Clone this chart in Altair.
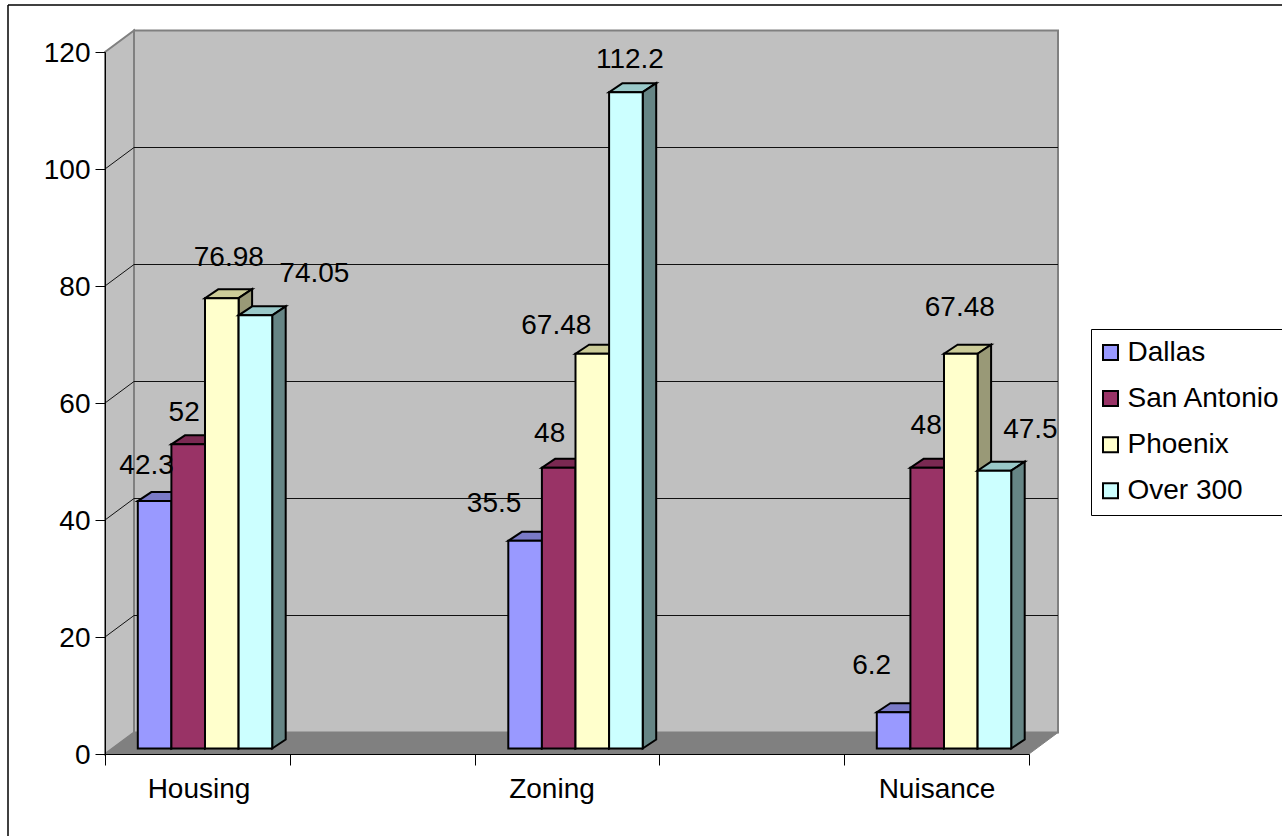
import altair as alt
import pandas as pd

# Chart values
categories = ["Housing", "Zoning", "Nuisance"]
series_names = ["Dallas", "San Antonio", "Phoenix", "Over 300"]
dallas = [42.3, 35.5, 6.2]
san_antonio = [52, 48, 48]
phoenix = [76.98, 67.48, 67.48]
over_300 = [74.05, 112.2, 47.5]
y_ticks = [0, 20, 40, 60, 80, 100, 120]

series_values = [dallas, san_antonio, phoenix, over_300]

# Face colours of each column: front, top, side
front_colors = ["#9999FF", "#993366", "#FFFFCC", "#CCFFFF"]
top_colors = ["#7A7AC6", "#7A2952", "#CCCC99", "#99C8C8"]
side_colors = ["#5C5C99", "#5C1F3D", "#999977", "#668585"]

# Layout in pixels
PLOT_W, PLOT_H = 924, 702
SLOTS = 5
Y_MAX = 120
PX_X = PLOT_W / SLOTS
PX_Y = PLOT_H / Y_MAX
WALL_DX, WALL_DY = 29 / PX_X, 21.5 / PX_Y
BAR_DX, BAR_DY = 13.5 / PX_X, 9 / PX_Y
BAR_LIFT = 5.5 / PX_Y
BAR_W = 33.6 / PX_X
FONT = "Liberation Sans"
FS = 28

group_centres = [100 / PX_X, 470.5 / PX_X, 839 / PX_X]
category_label_x = [94 / PX_X, 447 / PX_X, 832 / PX_X]
category_label_y = -35.5 / PX_Y

# Value label offsets from the top centre of each column (series, then category)
label_offsets = [
    [(-8, -35.5), (-31, -37), (-22, -46)],
    [(-4, -31), (-9, -34), (-1, -42)],
    [(7, -40), (-36, -28), (-1, -46)],
    [(59, -41), (4, -32), (36, -41)],
]


def X(field):
    return alt.X(
        field,
        type="quantitative",
        title=None,
        scale=alt.Scale(domain=[0, SLOTS], nice=False, zero=False),
        axis=alt.Axis(
            values=list(range(SLOTS + 1)), labels=False, grid=False, tickSize=11,
            tickColor="black", domainColor="black", zindex=1,
        ),
    )


def Y(field):
    return alt.Y(
        field,
        type="quantitative",
        title=None,
        stack=None,
        scale=alt.Scale(domain=[0, Y_MAX], nice=False, zero=False),
        axis=alt.Axis(
            values=y_ticks, grid=False, tickSize=10, tickColor="black",
            domainColor="black", labelFont=FONT, labelFontSize=FS,
            labelColor="black", labelPadding=5, labelOffset=1, zindex=1,
        ),
    )


layers = []

# Chart border: only the left and top edges fall inside the page
border = alt.Chart(pd.DataFrame({"a": [0]}))
layers.append(
    border.mark_rule(color="black", strokeWidth=1.5).encode(
        x=alt.value(-97), y=alt.value(-47), y2=alt.value(784)
    )
)
layers.append(
    border.mark_rule(color="black", strokeWidth=1.5).encode(
        x=alt.value(-97), x2=alt.value(1177), y=alt.value(-47)
    )
)

# Left wall
left_wall = pd.DataFrame(
    {"x": [0, WALL_DX], "lo": [0, WALL_DY], "hi": [Y_MAX, Y_MAX + WALL_DY]}
)
layers.append(
    alt.Chart(left_wall)
    .mark_area(color="#C0C0C0", stroke="#808080", strokeWidth=2)
    .encode(x=X("x"), y=Y("hi"), y2="lo")
)

# Back wall
back_wall = pd.DataFrame(
    {"x": [WALL_DX], "x2": [SLOTS + WALL_DX], "y": [WALL_DY], "y2": [Y_MAX + WALL_DY]}
)
layers.append(
    alt.Chart(back_wall)
    .mark_rect(color="#C0C0C0", stroke="#808080", strokeWidth=2)
    .encode(x=X("x"), x2="x2", y=Y("y"), y2="y2")
)

# Gridlines: across the back wall and slanting down the left wall
grid_ticks = [t for t in y_ticks if 0 < t < Y_MAX]
back_grid = pd.DataFrame(
    {"x": WALL_DX, "x2": SLOTS + WALL_DX, "y": [t + WALL_DY for t in grid_ticks]}
)
layers.append(
    alt.Chart(back_grid)
    .mark_rule(color="#111111", strokeWidth=1)
    .encode(x=X("x"), x2="x2", y=Y("y"))
)
side_grid = pd.DataFrame(
    [{"t": t, "x": dx, "y": t + dy} for t in grid_ticks for dx, dy in [(0, 0), (WALL_DX, WALL_DY)]]
)
layers.append(
    alt.Chart(side_grid)
    .mark_line(color="#111111", strokeWidth=1)
    .encode(x=X("x"), y=Y("y"), detail="t:N")
)

# Floor
floor = pd.DataFrame(
    {"y": [0, WALL_DY], "x": [0, WALL_DX], "x2": [SLOTS, SLOTS + WALL_DX]}
)
layers.append(
    alt.Chart(floor)
    .mark_area(orient="horizontal", color="#808080", stroke="#808080", strokeWidth=1)
    .encode(y=Y("y"), x=X("x"), x2="x2")
)

# Columns, drawn left to right so each hides the side of its neighbour
color_scale = alt.Scale(domain=series_names, range=front_colors)
legend = alt.Legend(
    title=None, orient="none", legendX=986, legendY=277, fillColor="white",
    strokeColor="black", padding=9.5, labelFont=FONT, labelFontSize=FS,
    labelColor="black", symbolType="square", symbolSize=225, symbolOffset=-4,
    symbolStrokeColor="black", symbolStrokeWidth=2, labelOffset=3, rowPadding=18.1,
)

for s, name in enumerate(series_names):
    fronts, tops, sides = [], [], []
    for c, cat in enumerate(categories):
        v = series_values[s][c]
        left = group_centres[c] + (s - 2) * BAR_W
        right = left + BAR_W
        top = v + BAR_LIFT
        fronts.append(
            {"series": name, "category": cat, "x": left, "x2": right, "y": top, "y2": BAR_LIFT}
        )
        tops.append({"category": cat, "y": top, "x": left, "x2": right})
        tops.append(
            {"category": cat, "y": top + BAR_DY, "x": left + BAR_DX, "x2": right + BAR_DX}
        )
        sides.append({"category": cat, "x": right, "hi": top, "lo": BAR_LIFT})
        sides.append(
            {"category": cat, "x": right + BAR_DX, "hi": top + BAR_DY, "lo": BAR_LIFT + BAR_DY}
        )

    layers.append(
        alt.Chart(pd.DataFrame(tops))
        .mark_area(orient="horizontal", color=top_colors[s], stroke="black", strokeWidth=2)
        .encode(y=Y("y"), x=X("x"), x2="x2", detail="category:N")
    )
    layers.append(
        alt.Chart(pd.DataFrame(sides))
        .mark_area(color=side_colors[s], stroke="black", strokeWidth=2)
        .encode(x=X("x"), y=Y("hi"), y2="lo", detail="category:N")
    )
    layers.append(
        alt.Chart(pd.DataFrame(fronts))
        .mark_rect(stroke="black", strokeWidth=2)
        .encode(
            x=X("x"), x2="x2", y=Y("y"), y2="y2",
            color=alt.Color("series:N", scale=color_scale, legend=legend),
        )
    )

# Value labels
label_rows = []
for s, name in enumerate(series_names):
    for c, cat in enumerate(categories):
        v = series_values[s][c]
        dx, dy = label_offsets[s][c]
        label_rows.append(
            {
                "text": f"{v:g}",
                "x": group_centres[c] + (s - 1.5) * BAR_W + dx / PX_X,
                "y": v + BAR_LIFT - dy / PX_Y,
            }
        )
layers.append(
    alt.Chart(pd.DataFrame(label_rows))
    .mark_text(font=FONT, fontSize=FS, color="black", align="center", baseline="middle")
    .encode(x=X("x"), y=Y("y"), text="text:N")
)

# Category labels under the axis
cat_labels = pd.DataFrame(
    {"text": categories, "x": category_label_x, "y": category_label_y}
)
layers.append(
    alt.Chart(cat_labels)
    .mark_text(font=FONT, fontSize=FS, color="black", align="center", baseline="middle")
    .encode(x=X("x"), y=Y("y"), text="text:N")
)

chart = (
    alt.layer(*layers)
    .properties(
        width=PLOT_W,
        height=PLOT_H,
        padding={"left": 105, "top": 52, "right": 253, "bottom": 82},
        autosize=alt.AutoSizeParams(type="none"),
        background="white",
    )
    .configure_view(stroke=None)
)

chart.save("out.html", embed_options={"renderer": "svg", "actions": False})
